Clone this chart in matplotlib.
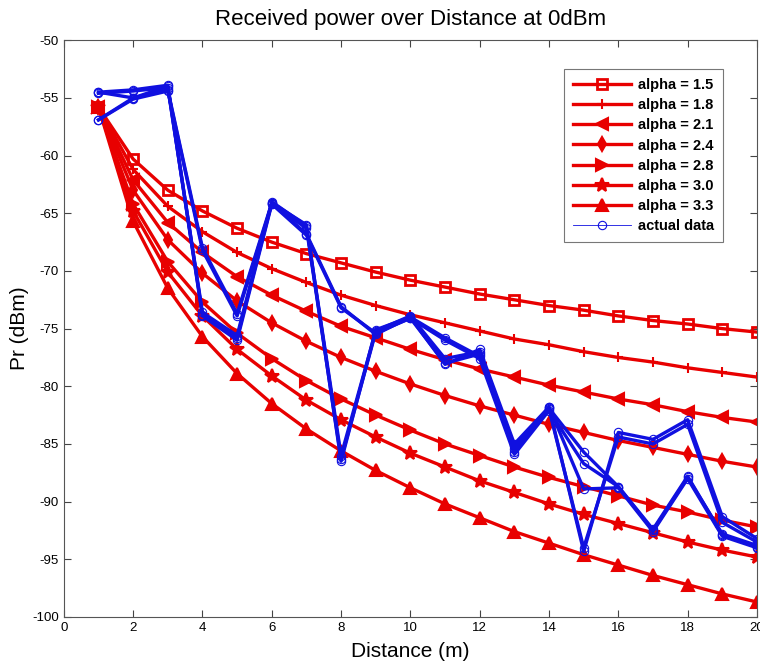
import matplotlib
matplotlib.use("Agg")
import matplotlib.pyplot as plt
from matplotlib.lines import Line2D

plt.rcParams['font.family'] = ['Liberation Sans', 'DejaVu Sans']
plt.rcParams['axes.unicode_minus'] = False

# distance in metres
dist = list(range(1, 21))

# path loss model curves (dBm)
alpha_labels = ["alpha = 1.5", "alpha = 1.8", "alpha = 2.1", "alpha = 2.4",
                "alpha = 2.8", "alpha = 3.0", "alpha = 3.3"]
pr_15 = [-55.8, -60.3, -63.0, -64.8, -66.3, -67.5, -68.5, -69.3, -70.1, -70.8,
         -71.4, -72.0, -72.5, -73.0, -73.4, -73.9, -74.3, -74.6, -75.0, -75.3]
pr_18 = [-55.8, -61.2, -64.4, -66.6, -68.4, -69.8, -71.0, -72.1, -73.0, -73.8,
         -74.5, -75.2, -75.9, -76.4, -77.0, -77.5, -77.9, -78.4, -78.8, -79.2]
pr_21 = [-55.8, -62.1, -65.8, -68.4, -70.5, -72.1, -73.5, -74.8, -75.8, -76.8,
         -77.7, -78.5, -79.2, -79.9, -80.5, -81.1, -81.6, -82.2, -82.7, -83.1]
pr_24 = [-55.8, -63.0, -67.3, -70.2, -72.6, -74.5, -76.1, -77.5, -78.7, -79.8,
         -80.8, -81.7, -82.5, -83.3, -84.0, -84.7, -85.3, -85.9, -86.5, -87.0]
pr_28 = [-55.8, -64.2, -69.2, -72.7, -75.4, -77.6, -79.5, -81.1, -82.5, -83.8,
         -85.0, -86.0, -87.0, -87.9, -88.7, -89.5, -90.3, -90.9, -91.6, -92.2]
pr_30 = [-55.8, -64.8, -70.1, -73.9, -76.8, -79.1, -81.2, -82.9, -84.4, -85.8,
         -87.0, -88.2, -89.2, -90.2, -91.1, -91.9, -92.7, -93.5, -94.2, -94.8]
pr_33 = [-55.8, -65.7, -71.5, -75.7, -78.9, -81.5, -83.7, -85.6, -87.3, -88.8,
         -90.2, -91.4, -92.6, -93.6, -94.6, -95.5, -96.4, -97.2, -98.0, -98.7]

# measured runs
meas_a = [-54.5, -54.3, -53.9, -73.8, -75.8, -64.1, -66.0, -86.5, -75.1, -74.0,
          -78.1, -76.8, -85.0, -81.8, -94.3, -84.0, -84.6, -82.9, -91.3, -93.2]
meas_b = [-56.9, -55.0, -54.3, -68.0, -73.7, -64.1, -66.8, -73.1, -75.5, -74.0,
          -75.8, -77.4, -85.7, -81.9, -85.7, -88.7, -92.4, -87.8, -92.9, -93.9]
meas_c = [-54.5, -55.0, -54.0, -73.9, -76.0, -64.2, -66.3, -86.3, -75.3, -74.1,
          -78.0, -77.2, -85.4, -81.8, -88.9, -88.8, -92.6, -88.0, -93.0, -94.0]
meas_d = [-54.6, -54.4, -54.1, -73.6, -75.6, -64.0, -66.1, -86.0, -75.2, -73.9,
          -77.6, -77.0, -85.2, -82.0, -94.0, -84.4, -85.0, -83.3, -91.8, -93.5]
meas_e = [-56.9, -55.1, -54.4, -68.2, -73.9, -64.2, -66.9, -73.2, -75.4, -74.1,
          -76.0, -77.6, -85.9, -82.1, -86.7, -88.7, -92.5, -87.9, -92.8, -93.8]

red = "#e80000"
blue = "#1010e0"

fig = plt.figure(figsize=(7.6, 6.71), dpi=100)
ax = fig.add_axes([0.084, 0.0805, 0.912, 0.8595])

curves = [pr_15, pr_18, pr_21, pr_24, pr_28, pr_30, pr_33]
markers = ["s", "+", "<", "d", ">", "*", "^"]
sizes = [7, 7, 8, 7, 8, 10, 8]
handles = []
for vals, mk, ms, lab in zip(curves, markers, sizes, alpha_labels):
    if mk == "s":
        h, = ax.plot(dist, vals, color=red, lw=2.4, marker=mk, ms=ms,
                     mfc="none", mec=red, mew=2, label=lab)
    else:
        h, = ax.plot(dist, vals, color=red, lw=2.4, marker=mk, ms=ms,
                     mfc=red, mec=red, mew=1.5, label=lab)
    handles.append(h)

for run in [meas_a, meas_b, meas_c, meas_d, meas_e]:
    ax.plot(dist, run, color=blue, lw=2.4, marker="o", ms=6,
            mfc="none", mec=blue, mew=0.8)

handles.append(Line2D([], [], color=blue, lw=0.6, marker="o", ms=6,
                      mfc="none", mec=blue, mew=0.8))
labels = alpha_labels + ["actual data"]

ax.set_xlim(0, 20)
ax.set_ylim(-100, -50)
ax.set_xticks(range(0, 21, 2))
ax.set_yticks(range(-100, -49, 5))
ax.tick_params(direction="in", top=True, right=True, labelsize=9.5, length=5,
               colors="#444444", labelcolor="black")
for sp in ax.spines.values():
    sp.set_color("#555555")

ax.set_title("Received power over Distance at 0dBm", fontsize=16, pad=11)
ax.set_xlabel("Distance (m)", fontsize=15, labelpad=6)
ax.set_ylabel("Pr (dBm)", fontsize=15, labelpad=2)

leg = ax.legend(handles, labels, loc="upper right",
                bbox_to_anchor=(0.962, 0.962), fancybox=False,
                prop={"weight": "bold", "size": 10.5}, handlelength=4.0,
                labelspacing=0.42, borderpad=0.6, handletextpad=0.5)
leg.get_frame().set_edgecolor("#555555")
leg.get_frame().set_linewidth(0.8)

fig.savefig("out.png", dpi=100)
